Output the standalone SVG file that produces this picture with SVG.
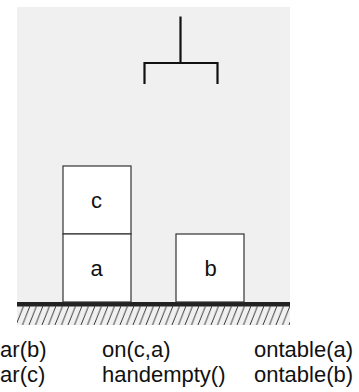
<svg xmlns="http://www.w3.org/2000/svg" width="359" height="392" viewBox="0 0 359 392">
  <style>
    .blk { fill: #ffffff; stroke: #333333; stroke-width: 1.2; }
    .lbl { font-family: "Liberation Sans", Arial, sans-serif; font-size: 22px; fill: #111111; text-anchor: middle; }
    .fact { font-family: "Liberation Sans", Arial, sans-serif; font-size: 22px; fill: #111111; }
    .hand { fill: none; stroke: #111111; stroke-width: 2.2; stroke-linecap: butt; stroke-linejoin: miter; }
  </style>
  <defs>
    <pattern id="hatch" x="17" y="306" width="6.5" height="19" patternUnits="userSpaceOnUse">
      <line x1="-1" y1="19" x2="6.5" y2="0" stroke="#222222" stroke-width="0.9"/>
      <line x1="5.5" y1="19" x2="13" y2="0" stroke="#222222" stroke-width="0.9"/>
    </pattern>
  </defs>
  <rect x="17" y="7" width="273" height="318" fill="#f0f0f0"/>
  <g id="ground">
    <rect x="17" y="306" width="273" height="19" fill="url(#hatch)"/>
    <rect x="17" y="302" width="273" height="4.5" fill="#222222"/>
  </g>
  <g id="hand">
    <path class="hand" d="M180.5 16.5 V63 M144.5 84 V63 H217.5 V84"/>
  </g>
  <g id="block-c">
    <rect class="blk" x="63" y="166" width="68" height="68"/>
    <text class="lbl" x="96.5" y="207.5">c</text>
  </g>
  <g id="block-a">
    <rect class="blk" x="63" y="234" width="68" height="68"/>
    <text class="lbl" x="96.5" y="275.5">a</text>
  </g>
  <g id="block-b">
    <rect class="blk" x="176" y="234" width="68" height="68"/>
    <text class="lbl" x="210.5" y="275.5">b</text>
  </g>
  <g id="connectors"></g>
  <g id="facts">
    <text class="fact" x="-28" y="356.5">clear(b)</text>
    <text class="fact" x="-28" y="381.5">clear(c)</text>
    <text class="fact" x="102" y="356.5">on(c,a)</text>
    <text class="fact" x="102" y="381.5">handempty()</text>
    <text class="fact" x="254" y="356.5">ontable(a)</text>
    <text class="fact" x="254" y="381.5">ontable(b)</text>
  </g>
</svg>
